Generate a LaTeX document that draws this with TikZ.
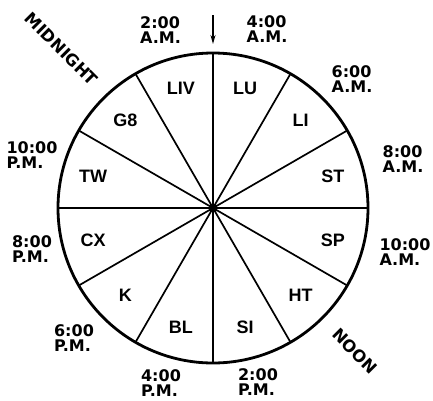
\documentclass[tikz,border=0pt]{standalone}
\usepackage{fontspec}
\setmainfont{DejaVu Sans}
\newfontfamily\sectfont{Liberation Sans}
\usetikzlibrary{arrows.meta}
\begin{document}
\begin{tikzpicture}[x=1pt,y=1pt,
  timelbl/.style={font=\fontsize{16}{15}\selectfont\bfseries, align=left, inner sep=0pt},
  sectlbl/.style={font=\sectfont\fontsize{18}{18}\selectfont\bfseries, inner sep=0pt},
  spoke/.style={line width=1.7pt},
  rim/.style={line width=2.8pt}]
\useasboundingbox (-213,-192) rectangle (220,208);
\coordinate (c) at (0,0);
\foreach \a in {0,30,...,330} \draw[spoke] (c) -- (\a:155pt);
\draw[rim] (c) circle (155pt);
\fill (c) circle (4.5pt);
\coordinate (arrTop) at (0,193);
\coordinate (arrTip) at (0,164);
\draw[line width=1.4pt, -{Stealth[length=9pt,width=5pt]}] (arrTop) -- (arrTip);
\foreach \n/\a in {LU/75, LI/45, ST/15, SP/-15, HT/-45, SI/-75, BL/-105, K/-135, CX/-165, TW/165, G8/135, LIV/105}
  \node[sectlbl] (s\n) at (\a:124pt) {\n};
\node[timelbl] (t2am) at (-52.5,178) {2:00\\A.M.};
\node[timelbl] (t4am) at (54,179) {4:00\\A.M.};
\node[timelbl] (t6am) at (139,129) {6:00\\A.M.};
\node[timelbl] (t8am) at (190,49) {8:00\\A.M.};
\node[timelbl] (t10am) at (192,-44.5) {10:00\\A.M.};
\node[timelbl] (t2pm) at (45,-174) {2:00\\P.M.};
\node[timelbl] (t4pm) at (-52,-175) {4:00\\P.M.};
\node[timelbl] (t6pm) at (-139,-130) {6:00\\P.M.};
\node[timelbl] (t8pm) at (-181,-41) {8:00\\P.M.};
\node[timelbl] (t10pm) at (-181,53) {10:00\\P.M.};
\node[timelbl, font=\fontsize{16.5}{16}\selectfont\bfseries, rotate=-45] (mid) at (-151.5,159) {MIDNIGHT};
\node[timelbl, font=\fontsize{16.5}{16}\selectfont\bfseries, rotate=-45] (noon) at (142,-143) {NOON};
\end{tikzpicture}
\end{document}
